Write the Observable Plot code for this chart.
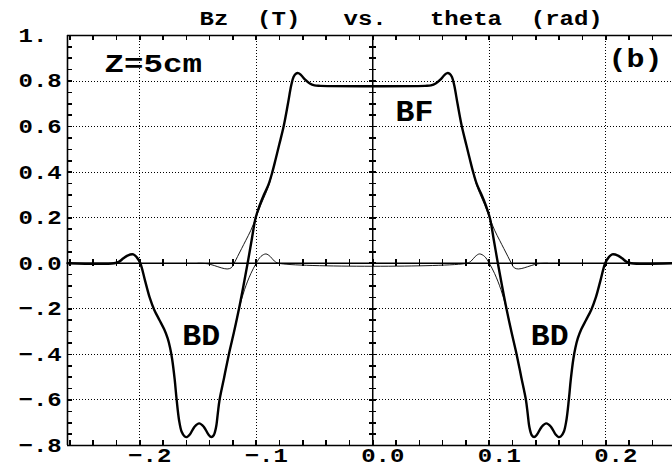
<!DOCTYPE html>
<html>
<head>
<meta charset="utf-8">
<script src="https://cdn.jsdelivr.net/npm/d3@7"></script>
<script src="https://cdn.jsdelivr.net/npm/@observablehq/plot@0.6"></script>
<style>
  html, body { margin: 0; padding: 0; background: #fff; overflow: hidden; }
</style>
</head>
<body>
<div id="chart"></div>
<script>
// ---- Data ----
// Total field (thick line)
const totalTheta = [-0.262,-0.222,-0.218,-0.214,-0.2105,-0.2055,-0.2025,-0.1995,-0.1955,-0.1915,-0.1875,-0.1830,-0.1790,-0.1760,-0.1740,-0.1722,-0.1700,-0.1683,-0.1662,-0.1640,-0.1615,-0.1595,-0.1570,-0.1530,-0.1490,-0.1450,-0.1410,-0.1385,-0.1365,-0.1345,-0.1330,-0.1315,-0.1275,-0.1235,-0.1190,-0.1148,-0.1110,-0.1074,-0.1040,-0.1005,-0.0970,-0.0935,-0.0895,-0.0862,-0.0832,-0.0803,-0.0765,-0.0728,-0.0700,-0.0680,-0.0660,-0.0640,-0.0615,-0.0580,-0.0540,-0.0500,-0.0450,
  0.0450,0.0500,0.0540,0.0580,0.0615,0.0640,0.0660,0.0680,0.0700,0.0728,0.0765,0.0803,0.0832,0.0862,0.0895,0.0935,0.0970,0.1005,0.1040,0.1074,0.1110,0.1148,0.1190,0.1235,0.1275,0.1315,0.1330,0.1345,0.1365,0.1385,0.1410,0.1450,0.1490,0.1530,0.1570,0.1595,0.1615,0.1640,0.1662,0.1683,0.1700,0.1722,0.1740,0.1760,0.1790,0.1830,0.1875,0.1915,0.1955,0.1995,0.2025,0.2055,0.2105,0.2140,0.2180,0.2220,0.2573];
const totalBz = [0,0,0.006,0.022,0.034,0.039,0.026,0,-0.075,-0.15,-0.205,-0.25,-0.29,-0.33,-0.37,-0.42,-0.51,-0.60,-0.69,-0.74,-0.760,-0.763,-0.752,-0.718,-0.703,-0.718,-0.752,-0.763,-0.755,-0.72,-0.66,-0.60,-0.50,-0.40,-0.30,-0.20,-0.10,0,0.10,0.20,0.255,0.30,0.345,0.40,0.46,0.52,0.60,0.70,0.78,0.818,0.832,0.835,0.826,0.806,0.789,0.781,0.779,
  0.779,0.781,0.789,0.806,0.826,0.835,0.832,0.818,0.78,0.70,0.60,0.52,0.46,0.40,0.345,0.30,0.255,0.20,0.10,0,-0.10,-0.20,-0.30,-0.40,-0.50,-0.60,-0.66,-0.72,-0.755,-0.763,-0.752,-0.718,-0.703,-0.718,-0.752,-0.763,-0.760,-0.74,-0.69,-0.60,-0.51,-0.42,-0.37,-0.33,-0.29,-0.25,-0.205,-0.15,-0.075,0,0.026,0.039,0.034,0.022,0.006,0,0];

// BF contribution (thin line), left and right flanks
const bfLeftTheta  = [-0.150,-0.142,-0.136,-0.130,-0.1250,-0.1215,-0.1190,-0.1160,-0.1125,-0.1090,-0.1046,-0.1003,-0.0958,-0.0920,-0.0887,-0.0862,-0.0832];
const bfLeftBz     = [0,-0.002,-0.010,-0.020,-0.025,-0.020,0,0.030,0.065,0.100,0.145,0.200,0.260,0.305,0.350,0.400,0.460];
const bfRightTheta = [0.0832,0.0862,0.0887,0.0920,0.0958,0.1003,0.1046,0.1090,0.1125,0.1160,0.1190,0.1215,0.1250,0.130,0.136,0.142,0.150];
const bfRightBz    = [0.460,0.400,0.350,0.305,0.260,0.200,0.145,0.100,0.065,0.030,0,-0.020,-0.025,-0.020,-0.010,-0.002,0];

// BD contribution (thin line) where it departs from the total
const bdTheta = [-0.1315,-0.1275,-0.1235,-0.1190,-0.1148,-0.1100,-0.1046,-0.1000,-0.0960,-0.0917,-0.0880,-0.0845,-0.0806,0.0806,0.0845,0.0880,0.0917,0.0960,0.1000,0.1046,0.1100,0.1148,0.1190,0.1235,0.1275,0.1315];
const bdBz    = [-0.60,-0.50,-0.40,-0.30,-0.20,-0.115,-0.045,0,0.030,0.041,0.030,0.010,0,0,0.010,0.030,0.041,0.030,0,-0.045,-0.115,-0.20,-0.30,-0.40,-0.50,-0.60];

// Axes
const xDomain = [-0.262, 0.2573];
const yDomain = [-0.8, 1.0];
const xTickValues = [-0.2, -0.1, 0, 0.1, 0.2];
const xTickLabels = ["−.2", "−.1", "0.0", "0.1", "0.2"];
const yTickValues = [1, 0.8, 0.6, 0.4, 0.2, 0, -0.2, -0.4, -0.6, -0.8];
const yTickLabels = ["1.", "0.8", "0.6", "0.4", "0.2", "0.0", "−.2", "−.4", "−.6", "−.8"];
const xGrid = [-0.2, -0.1, 0.1, 0.2];
const yGrid = [0.8, 0.6, 0.4, 0.2, -0.2, -0.4, -0.6];
const xMinorTicks = [-0.26,-0.24,-0.22,-0.20,-0.18,-0.16,-0.14,-0.12,-0.10,-0.08,-0.06,-0.04,-0.02,0,0.02,0.04,0.06,0.08,0.10,0.12,0.14,0.16,0.18,0.20,0.22,0.24];
const yMinorTicks = [-0.75,-0.70,-0.65,-0.60,-0.55,-0.50,-0.45,-0.40,-0.35,-0.30,-0.25,-0.20,-0.15,-0.10,-0.05,0,0.05,0.10,0.15,0.20,0.25,0.30,0.35,0.40,0.45,0.50,0.55,0.60,0.65,0.70,0.75,0.80,0.85,0.90,0.95];

const titleText = "Bz  (T)   vs.   theta  (rad)";

// ---- Build tables ----
const toRows = (xs, ys) => xs.map((x, i) => ({theta: x, bz: ys[i]}));
const total = toRows(totalTheta, totalBz);
const bfLeft = toRows(bfLeftTheta, bfLeftBz);
const bfRight = toRows(bfRightTheta, bfRightBz);
const bd = toRows(bdTheta, bdBz);

const tickOpts = {stroke: "black", strokeWidth: 1.6, shapeRendering: "crispEdges"};
const gridOpts = {stroke: "black", strokeWidth: 1, strokeDasharray: "1,2", shapeRendering: "crispEdges"};
const FONT = "Liberation Mono";
const txt = {fontWeight: "bold", fill: "black", lineAnchor: "middle"};

const chart = Plot.plot({
  width: 672,
  height: 467,
  marginLeft: 67,
  marginRight: 0,
  marginTop: 35,
  marginBottom: 22,
  style: {background: "white", fontFamily: FONT, overflow: "hidden"},
  x: {domain: xDomain, axis: null},
  y: {domain: yDomain, axis: null},
  marks: [
    // dotted grid
    Plot.ruleX(xGrid, {x: d => d, ...gridOpts}),
    Plot.ruleY(yGrid, {y: d => d, ...gridOpts}),
    // frame (left, top, bottom)
    Plot.ruleX([xDomain[0]], {x: d => d, stroke: "black", strokeWidth: 1.6}),
    Plot.ruleY([yDomain[0], yDomain[1]], {y: d => d, stroke: "black", strokeWidth: 1.6}),
    // zero axes
    Plot.ruleX([0], {x: d => d, stroke: "black", strokeWidth: 1.5}),
    Plot.ruleY([0], {y: d => d, stroke: "black", strokeWidth: 1.5}),
    // inward ticks on the frame
    Plot.ruleX(xMinorTicks, {x: d => d, y1: yDomain[1], y2: yDomain[1], insetTop: 0, insetBottom: -5, ...tickOpts}),
    Plot.ruleX(xMinorTicks, {x: d => d, y1: yDomain[0], y2: yDomain[0], insetTop: -5, insetBottom: 0, ...tickOpts}),
    Plot.ruleY(yMinorTicks, {y: d => d, x1: xDomain[0], x2: xDomain[0], insetLeft: 0, insetRight: -5, ...tickOpts}),
    // crossing ticks on the zero axes
    Plot.ruleX(xMinorTicks, {x: d => d, y1: 0, y2: 0, insetTop: -3.5, insetBottom: -3.5, ...tickOpts}),
    Plot.ruleY(yMinorTicks, {y: d => d, x1: 0, x2: 0, insetLeft: -3.5, insetRight: -3.5, ...tickOpts}),
    // curves
    Plot.line(bd, {x: "theta", y: "bz", stroke: "black", strokeWidth: 0.9, curve: "catmull-rom"}),
    Plot.line(bfLeft, {x: "theta", y: "bz", stroke: "black", strokeWidth: 0.9, curve: "catmull-rom"}),
    Plot.line(bfRight, {x: "theta", y: "bz", stroke: "black", strokeWidth: 0.9, curve: "catmull-rom"}),
    Plot.line(total, {x: "theta", y: "bz", stroke: "black", strokeWidth: 2.4, curve: "catmull-rom"}),
    // tick labels
    Plot.text(yTickValues, {y: d => d, text: (d, i) => yTickLabels[i], frameAnchor: "left", textAnchor: "start",
      dx: -49, fontSize: 20, ...txt, ariaDescription: "k1.2"}),
    Plot.text(xTickValues, {x: d => d, text: (d, i) => xTickLabels[i], frameAnchor: "bottom", textAnchor: "middle",
      dx: 10, dy: 10.5, fontSize: 20, ...txt, ariaDescription: "k1.2"}),
    // title
    Plot.text([titleText], {frameAnchor: "top-left", textAnchor: "start", dx: 132, dy: -16.5,
      fontSize: 20, ...txt, ariaDescription: "k1.2"}),
    // annotations
    Plot.text(["Z=5cm"], {frameAnchor: "top-left", textAnchor: "start", dx: 37, dy: 28,
      fontSize: 25, ...txt, ariaDescription: "k1.3"}),
    Plot.text(["(b)"], {frameAnchor: "top-right", textAnchor: "start", dx: -64, dy: 23.7,
      fontSize: 25, ...txt, ariaDescription: "k1.2"}),
    Plot.text(["BF"], {x: 0.0358, y: 0.669, textAnchor: "middle",
      fontSize: 30, ...txt, ariaDescription: "k1.05"}),
    Plot.text(["BD", "BD"], {x: (d, i) => i === 0 ? -0.1472 : 0.1519, y: -0.3175, textAnchor: "middle",
      fontSize: 30, ...txt, ariaDescription: "k1.05"})
  ]
});

document.getElementById("chart").append(chart);

// horizontally widen the monospace glyphs to match the reference lettering
chart.querySelectorAll("g[aria-description]").forEach(g => {
  const desc = g.getAttribute("aria-description");
  if (!/^k[\d.]+$/.test(desc)) return;
  const k = +desc.slice(1);
  g.querySelectorAll("text").forEach(t => {
    t.style.whiteSpace = "pre";
    const L = t.getComputedTextLength();
    t.setAttribute("textLength", (L * k).toFixed(2));
    t.setAttribute("lengthAdjust", "spacingAndGlyphs");
  });
});
</script>
</body>
</html>
